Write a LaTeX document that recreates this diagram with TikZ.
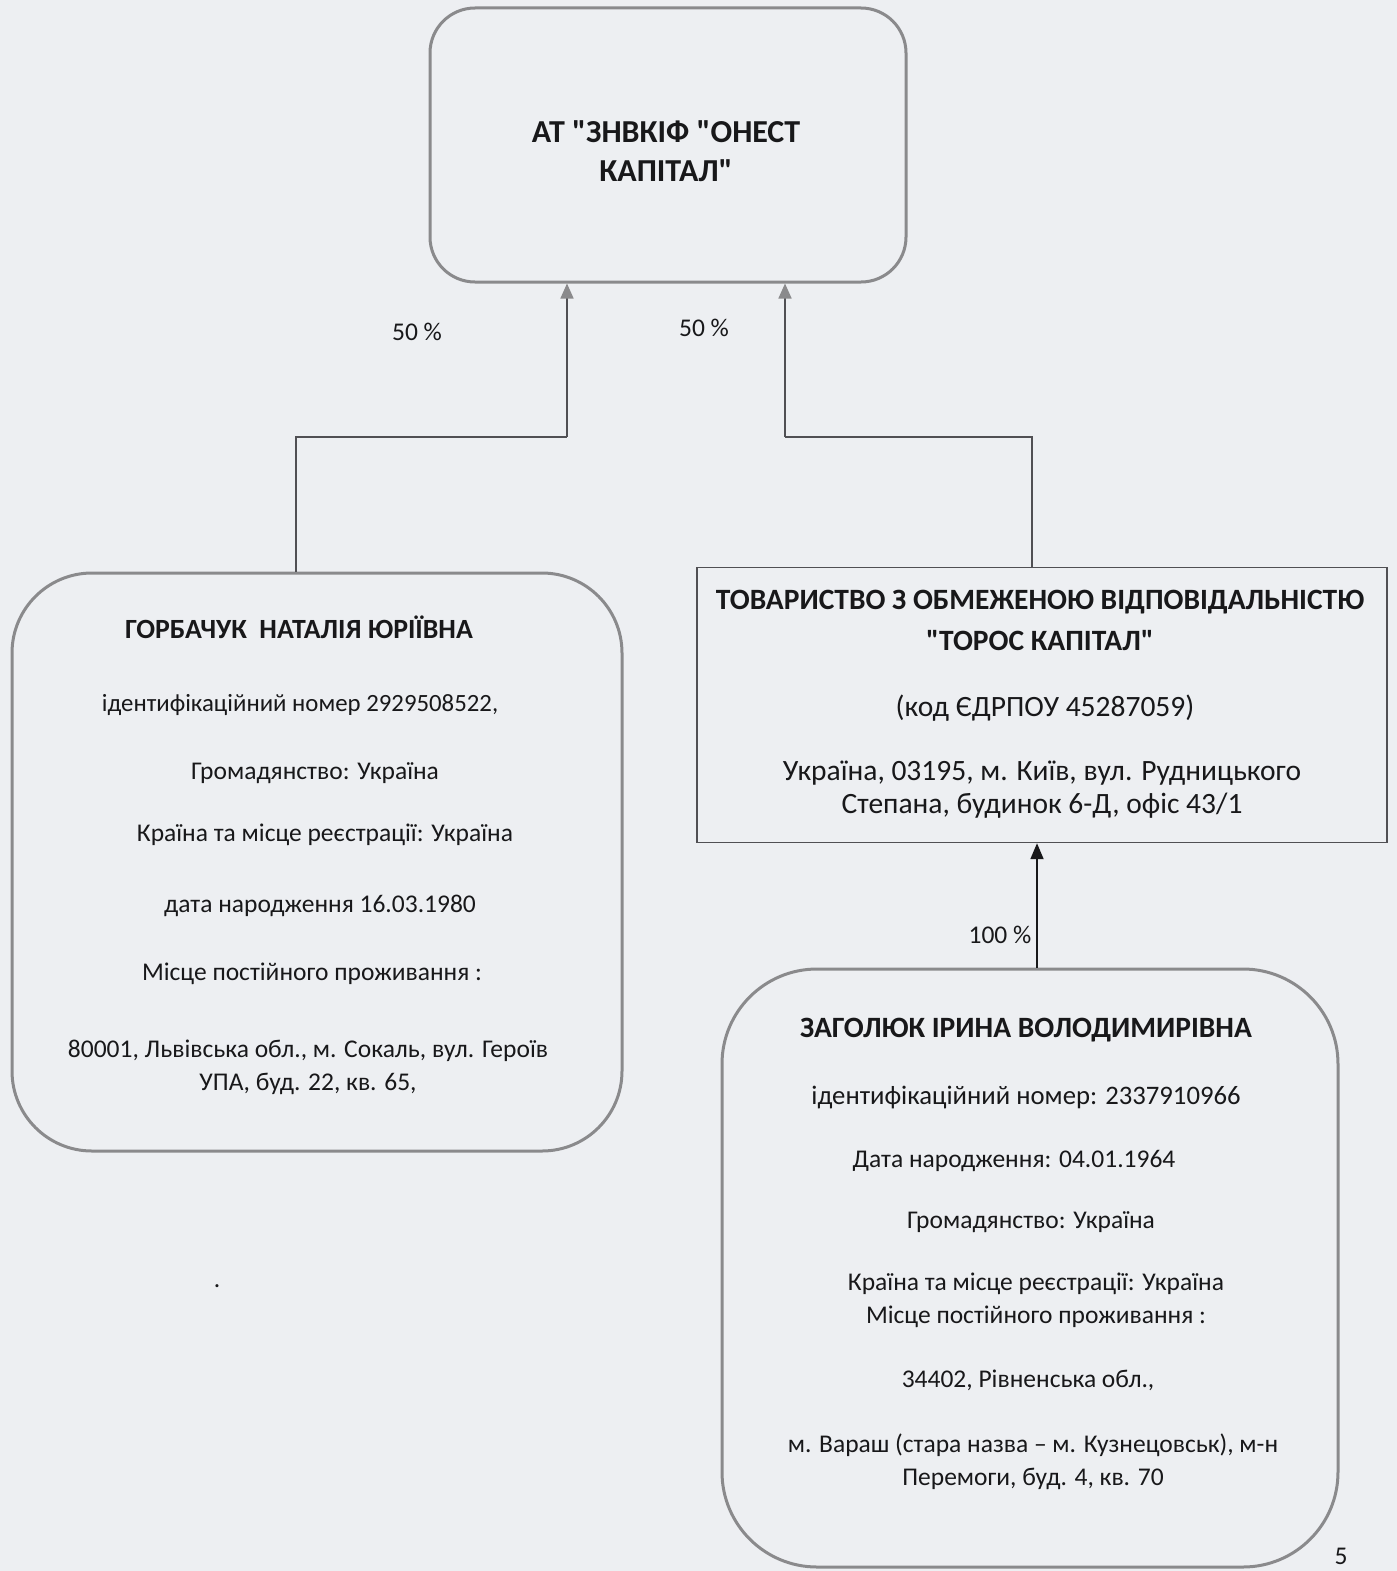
\documentclass[tikz,border=0pt]{standalone}
\usepackage{fontspec}
\setmainfont{Carlito}[Ligatures=TeXOff]
\usetikzlibrary{arrows.meta}
\definecolor{paper}{RGB}{237,239,242}
\definecolor{boxgray}{RGB}{138,138,140}
\definecolor{linegray}{RGB}{80,80,84}
\definecolor{ink}{RGB}{24,24,26}
\begin{document}
\begin{tikzpicture}[x=1pt,y=-1pt,
  rbox/.style={draw=boxgray, line width=3pt, inner sep=0pt},
  sbox/.style={draw=linegray, line width=1.4pt, inner sep=0pt},
  txt/.style={font=\fontsize{25.5}{33}\selectfont, text=ink, align=center, inner sep=0pt},
  txtL/.style={font=\fontsize{29.5}{33}\selectfont, text=ink, align=center, inner sep=0pt},
  ttl/.style={font=\fontsize{#1}{39}\selectfont\bfseries, text=ink, align=center, inner sep=0pt},
  ttlT/.style={font=\fontsize{29.5}{41}\selectfont\bfseries, text=ink, align=center, inner sep=0pt},
  conn/.style={draw=linegray, line width=1.6pt},
  garr/.style={conn, arrows={-{Triangle[width=13pt,length=15pt,color=boxgray]}}},
  barr/.style={draw=ink, line width=1.8pt, -{Triangle[width=13pt,length=16pt]}}
]
\fill[paper] (0,0) rectangle (1397,1571);
\useasboundingbox (0,0) rectangle (1397,1571);

% boxes
\node[rbox, rounded corners=45pt, minimum width=476pt, minimum height=274pt] (top) at (668,145) {};
\node[rbox, rounded corners=80pt, minimum width=610pt, minimum height=578pt] (hor) at (317,862) {};
\node[sbox, minimum width=690pt, minimum height=275pt] (tor) at (1042,705) {};
\node[rbox, rounded corners=95pt, minimum width=616pt, minimum height=598pt] (zag) at (1030,1268) {};

% top box text
\node[ttl=32] (topt) at (666,151) {АТ "ЗНВКІФ "ОНЕСТ\\КАПІТАЛ"};

% Horbachuk text
\node[ttl=27.8] (h1) at (299,627) {ГОРБАЧУК\ \ НАТАЛІЯ ЮРІЇВНА};
\node[txt, font=\fontsize{24.8}{33}\selectfont] (h2) at (300,705) {ідентифікаційний номер 2929508522,};
\node[txt] (h3) at (315,773) {Громадянство: Україна};
\node[txt] (h4) at (325,835) {Країна та місце реєстрації: Україна};
\node[txt] (h5) at (320,906) {дата народження 16.03.1980};
\node[txt] (h6) at (312,974) {Місце постійного проживання :};
\node[txt] (h7) at (308,1067) {80001, Львівська обл., м. Сокаль, вул. Героїв\\УПА, буд. 22, кв. 65,};
\node[txt] (hdot) at (217,1286) {.};

% Toros text
\node[ttlT] (t1) at (1040,620) {ТОВАРИСТВО З ОБМЕЖЕНОЮ ВІДПОВІДАЛЬНІСТЮ\\"ТОРОС КАПІТАЛ"};
\node[txtL] (t2) at (1045,708) {(код ЄДРПОУ 45287059)};
\node[txtL] (t3) at (1042,790) {Україна, 03195, м. Київ, вул. Рудницького\\Степана, будинок 6-Д, офіс 43/1};

% Zaholiuk text
\node[ttl=29.5] (z1) at (1026,1030) {ЗАГОЛЮК ІРИНА ВОЛОДИМИРІВНА};
\node[txt, font=\fontsize{26.7}{33}\selectfont] (z2) at (1026,1097) {ідентифікаційний номер: 2337910966};
\node[txt] (z3) at (1014,1161) {Дата народження: 04.01.1964};
\node[txt] (z4) at (1031,1222) {Громадянство: Україна};
\node[txt] (z5) at (1036,1300) {Країна та місце реєстрації: Україна\\Місце постійного проживання :};
\node[txt] (z6) at (1028,1380) {34402, Рівненська обл.,};
\node[txt] (z7) at (1033,1462) {м. Вараш (стара назва – м. Кузнецовськ), м-н\\Перемоги, буд. 4, кв. 70};

% connectors
\coordinate (aL) at (567,437);
\coordinate (aR) at (785,437);
\coordinate (jL) at (296,437);
\coordinate (jR) at (1032,437);
\coordinate (a3) at (1037,0);

\draw[conn] (hor.north -| jL) -- (jL) -- (aL);
\draw[garr] (aL) -- (aL |- top.south);
\draw[conn] (tor.north -| jR) -- (jR) -- (aR);
\draw[garr] (aR) -- (aR |- top.south);
\draw[barr] (zag.north -| a3) -- (tor.south -| a3);

% labels
\node[txt] (p1) at (417,332) {50 \%};
\node[txt] (p2) at (704,328) {50 \%};
\node[txt] (p3) at (1000,935) {100 \%};
\node[txt] (pg) at (1341,1556) {5};
\end{tikzpicture}
\end{document}
